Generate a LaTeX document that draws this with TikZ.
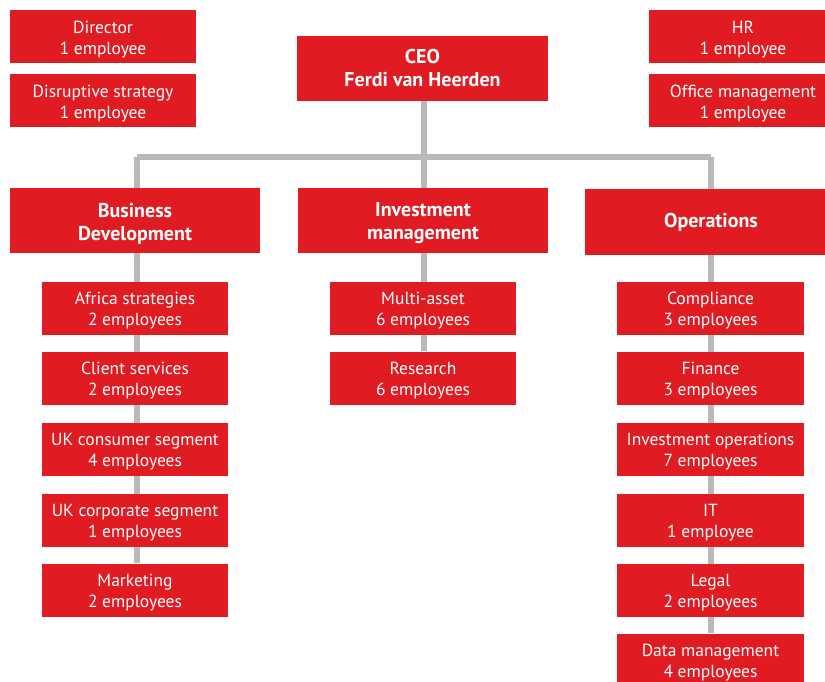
\documentclass[tikz,border=0pt]{standalone}
\usepackage{fontspec}
\setmainfont{PT Sans}
\usetikzlibrary{backgrounds}
\definecolor{boxred}{HTML}{E01B22}
\definecolor{linegray}{HTML}{B9B9B9}
\newcommand\lowr{\rule{0pt}{17pt}}
\newcommand\lowh{\rule{0pt}{20pt}}
\tikzset{
  unit/.style={fill=boxred, text=white, inner sep=0pt, align=center,
    font=\fontsize{17.5}{21}\selectfont},
  small/.style={unit, minimum width=186pt, minimum height=53pt},
  side/.style={unit, minimum width=186pt, minimum height=53pt},
  head/.style={unit, minimum height=65pt, font=\fontsize{20}{23}\selectfont\bfseries},
  conn/.style={draw=linegray, line width=6pt}
}
\begin{document}
\begin{tikzpicture}[x=1pt,y=-1pt]
\useasboundingbox (0,0) rectangle (825,682);
\clip (0,0) rectangle (825,682);
% top side boxes
\node[side] (dir) at (103,37) {\lowr Director\\1 employee};
\node[side] (dis) at (103,101) {\lowr Disruptive strategy\\1 employee};
\node[side, minimum width=188pt] (hr) at (743,37) {\lowr HR\\1 employee};
\node[side, minimum width=188pt] (off) at (743,101) {\lowr Office management\\1 employee};
\node[head, minimum width=251pt] (ceo) at (422.5,68.5) {CEO\\Ferdi van Heerden};
% departments
\node[head, minimum width=250pt] (bd) at (135,220.5) {\lowh Business\\Development};
\node[head, minimum width=250pt] (im) at (423,220.5) {\lowh Investment\\management};
\node[head, minimum width=252pt] (op) at (711,222) {Operations};
% business development
\node[small] (bd1) at (135,308) {\lowr Africa strategies\\2 employees};
\node[small] (bd2) at (135,378) {\lowr Client services\\2 employees};
\node[small] (bd3) at (135,449) {\lowr UK consumer segment\\4 employees};
\node[small] (bd4) at (135,520) {\lowr UK corporate segment\\1 employees};
\node[small] (bd5) at (135,590) {\lowr Marketing\\2 employees};
% investment management
\node[small] (im1) at (423,308) {\lowr Multi-asset\\6 employees};
\node[small] (im2) at (423,378) {\lowr Research\\6 employees};
% operations
\node[small, minimum width=187pt] (op1) at (710.5,308) {\lowr Compliance\\3 employees};
\node[small, minimum width=187pt] (op2) at (710.5,378) {\lowr Finance\\3 employees};
\node[small, minimum width=187pt] (op3) at (710.5,449) {\lowr Investment operations\\7 employees};
\node[small, minimum width=187pt] (op4) at (710.5,520) {\lowr IT\\1 employee};
\node[small, minimum width=187pt] (op5) at (710.5,590) {\lowr Legal\\2 employees};
\node[small, minimum width=187pt] (op6) at (710.5,660) {\lowr Data management\\4 employees};
\coordinate (hl) at (137,157);
\coordinate (hr2) at (711,157);
\coordinate (hc) at (424,157);
\begin{scope}[on background layer]
\draw[conn] (ceo.south -| hc) -- (im.north -| hc);
\draw[conn] (hl) -- (hr2);
\draw[conn] (hl) -- (bd1.north -| hl);
\draw[conn] (hr2) -- (op6.north -| hr2);
\draw[conn] (im.south -| hc) -- (im2.north -| hc);
\draw[conn] (bd.south -| hl) -- (bd5.north -| hl);
\end{scope}
\end{tikzpicture}
\end{document}
